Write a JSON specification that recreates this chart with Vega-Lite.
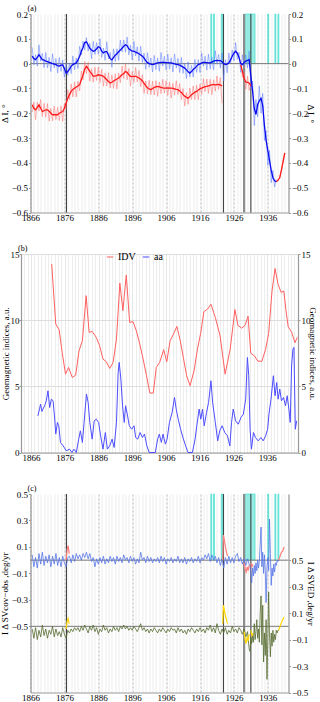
{
"$schema": "https://vega.github.io/schema/vega-lite/v6.json",
"padding": {"left": 0, "top": 5, "right": 0, "bottom": 0},
"config": {
  "font": "Liberation Serif",
  "view": {"stroke": null},
  "axis": {"labelFont": "Liberation Serif", "titleFont": "Liberation Serif", "labelFontSize": 9, "titleFontSize": 9, "titleFontWeight": "normal", "labelColor": "#000", "titleColor": "#000", "domain": true, "domainColor": "#999", "domainWidth": 1.2, "tickColor": "#999", "tickSize": 2, "labelPadding": 1, "labelFlush": false, "labelOverlap": false},
  "title": {"font": "Liberation Serif", "fontSize": 8, "fontWeight": "normal", "anchor": "start", "frame": "group", "offset": -3, "dx": -3, "color": "#000"}
},
"datasets": {
  "a": [
{"t":1866.5,"s":0.030,"r":0.065},{"t":1867,"s":0.020,"r":-0.005},{"t":1867.5,"s":0.016,"r":0.036},{"t":1868,"s":0.025,"r":-0.010},{"t":1868.5,"s":0.036,"r":0.076},{"t":1869,"s":0.025,"r":0.010},{"t":1869.5,"s":0.016,"r":0.041},{"t":1870,"s":0.014,"r":-0.016},{"t":1870.5,"s":0.010,"r":0.045},{"t":1871,"s":0.008,"r":-0.017},{"t":1871.5,"s":0.005,"r":0.025},{"t":1872,"s":0.003,"r":-0.032},{"t":1872.5,"s":0,"r":0.040},{"t":1873,"s":-0.002,"r":-0.017},{"t":1873.5,"s":-0.004,"r":0.021},{"t":1874,"s":-0.008,"r":-0.038},{"t":1874.5,"s":-0.010,"r":0.025},{"t":1875,"s":-0.006,"r":-0.031},{"t":1875.5,"s":-0.005,"r":0.015},{"t":1876,"s":-0.020,"r":-0.055},{"t":1876.5,"s":-0.038,"r":0.002},{"t":1877,"s":-0.032,"r":-0.047},{"t":1877.5,"s":-0.022,"r":0.003},{"t":1878,"s":-0.010,"r":-0.040},{"t":1878.5,"s":-0.004,"r":0.031},{"t":1879,"s":0,"r":-0.025},{"t":1879.5,"s":0.003,"r":0.023},{"t":1880,"s":0.015,"r":-0.020},{"t":1880.5,"s":0.030,"r":0.070},{"t":1881,"s":0.050,"r":0.035},{"t":1881.5,"s":0.065,"r":0.090},{"t":1882,"s":0.085,"r":0.055},{"t":1882.5,"s":0.088,"r":0.105},{"t":1883,"s":0.075,"r":0.050},{"t":1883.5,"s":0.062,"r":0.082},{"t":1884,"s":0.055,"r":0.020},{"t":1884.5,"s":0.050,"r":0.090},{"t":1885,"s":0.052,"r":0.037},{"t":1885.5,"s":0.060,"r":0.085},{"t":1886,"s":0.068,"r":0.038},{"t":1886.5,"s":0.065,"r":0.100},{"t":1887,"s":0.050,"r":0.025},{"t":1887.5,"s":0.043,"r":0.063},{"t":1888,"s":0.048,"r":0.013},{"t":1888.5,"s":0.048,"r":0.088},{"t":1889,"s":0.035,"r":0.020},{"t":1889.5,"s":0.020,"r":0.045},{"t":1890,"s":0.015,"r":-0.015},{"t":1890.5,"s":0.025,"r":0.060},{"t":1891,"s":0.034,"r":0.009},{"t":1891.5,"s":0.040,"r":0.060},{"t":1892,"s":0.048,"r":0.013},{"t":1892.5,"s":0.055,"r":0.095},{"t":1893,"s":0.062,"r":0.047},{"t":1893.5,"s":0.070,"r":0.095},{"t":1894,"s":0.076,"r":0.046},{"t":1894.5,"s":0.072,"r":0.107},{"t":1895,"s":0.060,"r":0.035},{"t":1895.5,"s":0.055,"r":0.075},{"t":1896,"s":0.050,"r":0.015},{"t":1896.5,"s":0.050,"r":0.090},{"t":1897,"s":0.046,"r":0.031},{"t":1897.5,"s":0.043,"r":0.068},{"t":1898,"s":0.040,"r":0.010},{"t":1898.5,"s":0.035,"r":0.070},{"t":1899,"s":0.030,"r":0.005},{"t":1899.5,"s":0.022,"r":0.042},{"t":1900,"s":0.012,"r":-0.023},{"t":1900.5,"s":0.004,"r":0.044},{"t":1901,"s":0,"r":-0.015},{"t":1901.5,"s":-0.002,"r":0.023},{"t":1902,"s":-0.004,"r":-0.034},{"t":1902.5,"s":-0.002,"r":0.033},{"t":1903,"s":0.001,"r":-0.024},{"t":1903.5,"s":0.003,"r":0.023},{"t":1904,"s":0.004,"r":-0.031},{"t":1904.5,"s":0.005,"r":0.045},{"t":1905,"s":0.005,"r":-0.010},{"t":1905.5,"s":0.005,"r":0.030},{"t":1906,"s":0.004,"r":-0.026},{"t":1906.5,"s":0.004,"r":0.039},{"t":1907,"s":0.003,"r":-0.022},{"t":1907.5,"s":0.003,"r":0.023},{"t":1908,"s":0.001,"r":-0.034},{"t":1908.5,"s":-0.001,"r":0.039},{"t":1909,"s":-0.003,"r":-0.018},{"t":1909.5,"s":-0.004,"r":0.021},{"t":1910,"s":-0.006,"r":-0.036},{"t":1910.5,"s":-0.010,"r":0.025},{"t":1911,"s":-0.014,"r":-0.039},{"t":1911.5,"s":-0.018,"r":0.002},{"t":1912,"s":-0.025,"r":-0.060},{"t":1912.5,"s":-0.033,"r":0.007},{"t":1913,"s":-0.038,"r":-0.053},{"t":1913.5,"s":-0.032,"r":-0.007},{"t":1914,"s":-0.024,"r":-0.054},{"t":1914.5,"s":-0.018,"r":0.017},{"t":1915,"s":-0.010,"r":-0.035},{"t":1915.5,"s":-0.004,"r":0.016},{"t":1916,"s":-0.001,"r":-0.036},{"t":1916.5,"s":0.003,"r":0.043},{"t":1917,"s":0.005,"r":-0.010},{"t":1917.5,"s":0.005,"r":0.030},{"t":1918,"s":0.004,"r":-0.026},{"t":1918.5,"s":0.003,"r":0.038},{"t":1919,"s":0.003,"r":-0.022},{"t":1919.5,"s":0.006,"r":0.026},{"t":1920,"s":0.010,"r":-0.025},{"t":1920.5,"s":0.012,"r":0.052},{"t":1921,"s":0.013,"r":-0.002},{"t":1921.5,"s":0.012,"r":0.037},{"t":1922,"s":0.012,"r":-0.018},{"t":1922.5,"s":0.008,"r":0.043},{"t":1923,"s":0,"r":-0.070},{"t":1923.5,"s":-0.004,"r":0.016},{"t":1924,"s":-0.002,"r":-0.037},{"t":1924.5,"s":0.003,"r":0.043},{"t":1925,"s":0.015,"r":0},{"t":1925.5,"s":0.030,"r":0.055},{"t":1926,"s":0.042,"r":0.012},{"t":1926.5,"s":0.050,"r":0.085},{"t":1927,"s":0.042,"r":0.017},{"t":1927.5,"s":0.025,"r":0.045},{"t":1928,"s":0,"r":-0.035},{"t":1928.5,"s":-0.004,"r":0.036},{"t":1929,"s":0.005,"r":-0.010},{"t":1929.5,"s":0.010,"r":0.035},{"t":1930,"s":0.013,"r":-0.017},{"t":1930.5,"s":0.016,"r":0.051},{"t":1931,"s":-0.050,"r":-0.100},{"t":1931.5,"s":-0.110,"r":-0.070},{"t":1932,"s":-0.180,"r":-0.250},{"t":1932.5,"s":-0.205,"r":-0.145},{"t":1933,"s":-0.165,"r":-0.215},{"t":1933.5,"s":-0.150,"r":-0.090},{"t":1934,"s":-0.140,"r":-0.200},{"t":1934.5,"s":-0.170,"r":-0.120},{"t":1935,"s":-0.250,"r":-0.310},{"t":1935.5,"s":-0.310,"r":-0.270},{"t":1936,"s":-0.350,"r":-0.410},{"t":1936.5,"s":-0.390,"r":-0.350},{"t":1937,"s":-0.430,"r":-0.480},{"t":1937.5,"s":-0.460,"r":-0.430},{"t":1938,"s":-0.472,"r":-0.497},{"t":1938.5,"s":-0.476,"r":-0.466}
  ],
  "ar": [
{"g":1,"t":1866.5,"s":-0.166,"r":-0.196},{"g":1,"t":1867,"s":-0.180,"r":-0.155},{"g":1,"t":1867.5,"s":-0.186,"r":-0.226},{"g":1,"t":1868,"s":-0.176,"r":-0.156},{"g":1,"t":1868.5,"s":-0.166,"r":-0.191},{"g":1,"t":1869,"s":-0.180,"r":-0.145},{"g":1,"t":1869.5,"s":-0.193,"r":-0.213},{"g":1,"t":1870,"s":-0.190,"r":-0.160},{"g":1,"t":1870.5,"s":-0.186,"r":-0.216},{"g":1,"t":1871,"s":-0.186,"r":-0.161},{"g":1,"t":1871.5,"s":-0.192,"r":-0.232},{"g":1,"t":1872,"s":-0.200,"r":-0.180},{"g":1,"t":1872.5,"s":-0.206,"r":-0.231},{"g":1,"t":1873,"s":-0.206,"r":-0.171},{"g":1,"t":1873.5,"s":-0.206,"r":-0.226},{"g":1,"t":1874,"s":-0.206,"r":-0.176},{"g":1,"t":1874.5,"s":-0.200,"r":-0.230},{"g":1,"t":1875,"s":-0.196,"r":-0.171},{"g":1,"t":1875.5,"s":-0.193,"r":-0.233},{"g":1,"t":1876,"s":-0.180,"r":-0.160},{"g":1,"t":1876.5,"s":-0.160,"r":-0.185},{"g":1,"t":1877,"s":-0.140,"r":-0.105},{"g":1,"t":1877.5,"s":-0.125,"r":-0.145},{"g":1,"t":1878,"s":-0.112,"r":-0.082},{"g":1,"t":1878.5,"s":-0.104,"r":-0.134},{"g":1,"t":1879,"s":-0.099,"r":-0.074},{"g":1,"t":1879.5,"s":-0.094,"r":-0.134},{"g":1,"t":1880,"s":-0.090,"r":-0.070},{"g":1,"t":1880.5,"s":-0.085,"r":-0.110},{"g":1,"t":1881,"s":-0.065,"r":-0.030},{"g":1,"t":1881.5,"s":-0.045,"r":-0.065},{"g":1,"t":1882,"s":-0.022,"r":0.008},{"g":1,"t":1882.5,"s":-0.011,"r":-0.041},{"g":1,"t":1883,"s":-0.020,"r":0.005},{"g":1,"t":1883.5,"s":-0.031,"r":-0.071},{"g":1,"t":1884,"s":-0.040,"r":-0.020},{"g":1,"t":1884.5,"s":-0.050,"r":-0.075},{"g":1,"t":1885,"s":-0.050,"r":-0.015},{"g":1,"t":1885.5,"s":-0.048,"r":-0.068},{"g":1,"t":1886,"s":-0.045,"r":-0.015},{"g":1,"t":1886.5,"s":-0.046,"r":-0.076},{"g":1,"t":1887,"s":-0.048,"r":-0.023},{"g":1,"t":1887.5,"s":-0.051,"r":-0.091},{"g":1,"t":1888,"s":-0.058,"r":-0.038},{"g":1,"t":1888.5,"s":-0.065,"r":-0.090},{"g":1,"t":1889,"s":-0.072,"r":-0.037},{"g":1,"t":1889.5,"s":-0.078,"r":-0.098},{"g":1,"t":1890,"s":-0.075,"r":-0.045},{"g":1,"t":1890.5,"s":-0.070,"r":-0.100},{"g":1,"t":1891,"s":-0.066,"r":-0.041},{"g":1,"t":1891.5,"s":-0.062,"r":-0.102},{"g":1,"t":1892,"s":-0.058,"r":-0.038},{"g":1,"t":1892.5,"s":-0.052,"r":-0.077},{"g":1,"t":1893,"s":-0.045,"r":-0.010},{"g":1,"t":1893.5,"s":-0.040,"r":-0.060},{"g":1,"t":1894,"s":-0.032,"r":-0.002},{"g":1,"t":1894.5,"s":-0.035,"r":-0.065},{"g":1,"t":1895,"s":-0.045,"r":-0.020},{"g":1,"t":1895.5,"s":-0.051,"r":-0.091},{"g":1,"t":1896,"s":-0.052,"r":-0.032},{"g":1,"t":1896.5,"s":-0.051,"r":-0.076},{"g":1,"t":1897,"s":-0.051,"r":-0.016},{"g":1,"t":1897.5,"s":-0.054,"r":-0.074},{"g":1,"t":1898,"s":-0.058,"r":-0.028},{"g":1,"t":1898.5,"s":-0.063,"r":-0.093},{"g":1,"t":1899,"s":-0.070,"r":-0.045},{"g":1,"t":1899.5,"s":-0.080,"r":-0.120},{"g":1,"t":1900,"s":-0.090,"r":-0.070},{"g":1,"t":1900.5,"s":-0.097,"r":-0.122},{"g":1,"t":1901,"s":-0.102,"r":-0.067},{"g":1,"t":1901.5,"s":-0.105,"r":-0.125},{"g":1,"t":1902,"s":-0.100,"r":-0.070},{"g":1,"t":1902.5,"s":-0.096,"r":-0.126},{"g":1,"t":1903,"s":-0.094,"r":-0.069},{"g":1,"t":1903.5,"s":-0.092,"r":-0.132},{"g":1,"t":1904,"s":-0.094,"r":-0.074},{"g":1,"t":1904.5,"s":-0.096,"r":-0.121},{"g":1,"t":1905,"s":-0.098,"r":-0.063},{"g":1,"t":1905.5,"s":-0.099,"r":-0.119},{"g":1,"t":1906,"s":-0.099,"r":-0.069},{"g":1,"t":1906.5,"s":-0.098,"r":-0.128},{"g":1,"t":1907,"s":-0.099,"r":-0.074},{"g":1,"t":1907.5,"s":-0.099,"r":-0.139},{"g":1,"t":1908,"s":-0.100,"r":-0.080},{"g":1,"t":1908.5,"s":-0.102,"r":-0.127},{"g":1,"t":1909,"s":-0.104,"r":-0.069},{"g":1,"t":1909.5,"s":-0.105,"r":-0.125},{"g":1,"t":1910,"s":-0.110,"r":-0.080},{"g":1,"t":1910.5,"s":-0.116,"r":-0.146},{"g":1,"t":1911,"s":-0.125,"r":-0.100},{"g":1,"t":1911.5,"s":-0.131,"r":-0.171},{"g":1,"t":1912,"s":-0.136,"r":-0.116},{"g":1,"t":1912.5,"s":-0.139,"r":-0.164},{"g":1,"t":1913,"s":-0.133,"r":-0.098},{"g":1,"t":1913.5,"s":-0.125,"r":-0.145},{"g":1,"t":1914,"s":-0.120,"r":-0.090},{"g":1,"t":1914.5,"s":-0.115,"r":-0.145},{"g":1,"t":1915,"s":-0.112,"r":-0.087},{"g":1,"t":1915.5,"s":-0.106,"r":-0.146},{"g":1,"t":1916,"s":-0.102,"r":-0.082},{"g":1,"t":1916.5,"s":-0.099,"r":-0.124},{"g":1,"t":1917,"s":-0.096,"r":-0.061},{"g":1,"t":1917.5,"s":-0.093,"r":-0.113},{"g":1,"t":1918,"s":-0.092,"r":-0.062},{"g":1,"t":1918.5,"s":-0.090,"r":-0.120},{"g":1,"t":1919,"s":-0.088,"r":-0.063},{"g":1,"t":1919.5,"s":-0.085,"r":-0.125},{"g":1,"t":1920,"s":-0.085,"r":-0.065},{"g":1,"t":1920.5,"s":-0.086,"r":-0.111},{"g":1,"t":1921,"s":-0.085,"r":-0.050},{"g":1,"t":1921.5,"s":-0.084,"r":-0.104},{"g":1,"t":1922,"s":-0.086,"r":-0.056},{"g":1,"t":1922.5,"s":-0.090,"r":-0.160},
{"g":2,"t":1928,"s":-0.005,"r":0.015},{"g":2,"t":1928.5,"s":-0.030,"r":-0.055},{"g":2,"t":1929,"s":-0.060,"r":-0.035},{"g":2,"t":1929.5,"s":-0.074,"r":-0.104},{"g":2,"t":1930,"s":-0.076,"r":-0.051},{"g":2,"t":1930.5,"s":-0.078,"r":-0.108},{"g":2,"t":1931,"s":-0.090,"r":-0.080},
{"g":3,"t":1938.5,"s":-0.476,"r":-0.476},{"g":3,"t":1939,"s":-0.470,"r":-0.468},{"g":3,"t":1939.5,"s":-0.460,"r":-0.462},{"g":3,"t":1940,"s":-0.430,"r":-0.428},{"g":3,"t":1940.5,"s":-0.395,"r":-0.396},{"g":3,"t":1941,"s":-0.360,"r":-0.360}
  ],
  "idv": [
{"t":1872.1,"v":14.24},{"t":1873.3,"v":9.7},{"t":1874.3,"v":9.28},{"t":1875.2,"v":7.56},{"t":1876.2,"v":5.92},{"t":1877.1,"v":6.43},{"t":1878.2,"v":5.67},{"t":1879.2,"v":5.85},{"t":1880.2,"v":7.69},{"t":1881.2,"v":8.45},{"t":1882.3,"v":11.85},{"t":1883.2,"v":9.08},{"t":1884.1,"v":9.15},{"t":1885.3,"v":8.7},{"t":1886.3,"v":8.07},{"t":1887.3,"v":7.06},{"t":1888.3,"v":6.86},{"t":1889.3,"v":6.35},{"t":1890.3,"v":6.81},{"t":1891.3,"v":8.57},{"t":1892.3,"v":12.8},{"t":1893.2,"v":10.72},{"t":1894.2,"v":13.41},{"t":1895.2,"v":9.83},{"t":1896.2,"v":9.89},{"t":1897.2,"v":9.2},{"t":1898.2,"v":8.19},{"t":1899.2,"v":7.06},{"t":1900.2,"v":5.8},{"t":1901.2,"v":4.49},{"t":1902.2,"v":4.49},{"t":1903.1,"v":6.43},{"t":1904.1,"v":6.81},{"t":1905.3,"v":7.77},{"t":1906.2,"v":6.86},{"t":1907.2,"v":8.45},{"t":1908.2,"v":8.95},{"t":1909.2,"v":9.53},{"t":1910.2,"v":8.45},{"t":1911.1,"v":7.19},{"t":1912.1,"v":5.8},{"t":1913.1,"v":5.05},{"t":1914.3,"v":6.18},{"t":1915.3,"v":7.81},{"t":1916.3,"v":9.08},{"t":1917.2,"v":10.64},{"t":1918.3,"v":10.84},{"t":1919.3,"v":11.2},{"t":1920.6,"v":10.21},{"t":1922.0,"v":8.82},{"t":1923.5,"v":5.92},{"t":1925.0,"v":7.81},{"t":1926.4,"v":10.8},{"t":1927.3,"v":9.6},{"t":1928.4,"v":9.4},{"t":1929.4,"v":9.6},{"t":1930.3,"v":10.3},{"t":1931.1,"v":7.5},{"t":1932.2,"v":7.3},{"t":1933.2,"v":6.9},{"t":1934.4,"v":6.9},{"t":1935.5,"v":7.8},{"t":1936.4,"v":9.0},{"t":1937.4,"v":12.2},{"t":1938.3,"v":13.9},{"t":1939.2,"v":12.7},{"t":1940.1,"v":12.1},{"t":1940.9,"v":12.2},{"t":1941.5,"v":10.8},{"t":1942.2,"v":9.5},{"t":1943.2,"v":9.1},{"t":1944.2,"v":8.3},{"t":1944.9,"v":8.7}
  ],
  "aa": [
{"t":1868.0,"v":2.77},{"t":1868.5,"v":3.3},{"t":1868.8,"v":3.66},{"t":1869.2,"v":3.1},{"t":1869.5,"v":3.28},{"t":1870.0,"v":3.53},{"t":1870.5,"v":3.91},{"t":1871.0,"v":4.66},{"t":1871.5,"v":3.40},{"t":1872.0,"v":4.03},{"t":1872.5,"v":3.91},{"t":1873.0,"v":2.52},{"t":1873.3,"v":1.39},{"t":1873.8,"v":2.27},{"t":1874.2,"v":2.02},{"t":1874.7,"v":0.76},{"t":1875.5,"v":0.5},{"t":1876.4,"v":0.13},{"t":1877.4,"v":0.25},{"t":1878.1,"v":0},{"t":1878.7,"v":0.25},{"t":1879.4,"v":0},{"t":1880.1,"v":1.01},{"t":1880.6,"v":1.64},{"t":1881.2,"v":0.76},{"t":1881.7,"v":2.27},{"t":1882.4,"v":4.41},{"t":1882.9,"v":3.78},{"t":1883.4,"v":2.27},{"t":1884.1,"v":1.01},{"t":1884.7,"v":2.39},{"t":1885.3,"v":2.52},{"t":1886.0,"v":2.27},{"t":1886.6,"v":1.26},{"t":1887.3,"v":0.25},{"t":1888.0,"v":1.51},{"t":1888.6,"v":0.25},{"t":1889.3,"v":0.5},{"t":1890.0,"v":1.01},{"t":1890.6,"v":0.38},{"t":1891.3,"v":2.27},{"t":1891.8,"v":6.05},{"t":1892.1,"v":6.81},{"t":1892.6,"v":5.55},{"t":1893.1,"v":3.53},{"t":1893.6,"v":2.27},{"t":1894.0,"v":3.53},{"t":1894.5,"v":2.9},{"t":1895.1,"v":2.02},{"t":1895.8,"v":1.76},{"t":1896.5,"v":2.02},{"t":1897.0,"v":1.13},{"t":1897.6,"v":1.01},{"t":1898.3,"v":1.51},{"t":1899.0,"v":1.13},{"t":1899.6,"v":1.39},{"t":1900.3,"v":0.5},{"t":1901.0,"v":0},{"t":1901.8,"v":0},{"t":1902.8,"v":0},{"t":1903.5,"v":1.01},{"t":1904.0,"v":1.39},{"t":1904.6,"v":0.76},{"t":1905.1,"v":1.39},{"t":1905.8,"v":0.63},{"t":1906.3,"v":1.01},{"t":1907.0,"v":2.27},{"t":1907.8,"v":3.03},{"t":1908.5,"v":4.16},{"t":1909.0,"v":3.28},{"t":1909.6,"v":2.52},{"t":1910.3,"v":1.76},{"t":1911.0,"v":1.13},{"t":1911.8,"v":0.5},{"t":1912.5,"v":0},{"t":1913.8,"v":0},{"t":1914.6,"v":1.01},{"t":1915.1,"v":2.02},{"t":1915.8,"v":3.28},{"t":1916.3,"v":2.52},{"t":1916.8,"v":3.28},{"t":1917.3,"v":2.02},{"t":1918.0,"v":3.03},{"t":1918.6,"v":3.78},{"t":1919.3,"v":5.42},{"t":1919.8,"v":3.78},{"t":1920.6,"v":2.27},{"t":1921.3,"v":0.88},{"t":1921.9,"v":1.64},{"t":1922.6,"v":2.02},{"t":1923.4,"v":1.51},{"t":1924.2,"v":1.26},{"t":1924.9,"v":0.5},{"t":1925.4,"v":2.27},{"t":1925.9,"v":3.28},{"t":1926.6,"v":2.39},{"t":1927.4,"v":2.14},{"t":1928.2,"v":2.65},{"t":1928.9,"v":2.9},{"t":1929.6,"v":4.03},{"t":1930.1,"v":7.18},{"t":1930.5,"v":5.8},{"t":1930.9,"v":1.76},{"t":1931.3,"v":0.25},{"t":1931.9,"v":1.51},{"t":1932.5,"v":1.13},{"t":1933.3,"v":0.88},{"t":1934.1,"v":1.13},{"t":1934.8,"v":0.88},{"t":1935.5,"v":1.26},{"t":1936.1,"v":1.76},{"t":1936.5,"v":2.9},{"t":1937.1,"v":4.03},{"t":1937.8,"v":5.8},{"t":1938.3,"v":4.29},{"t":1938.8,"v":5.29},{"t":1939.2,"v":4.03},{"t":1939.7,"v":4.79},{"t":1940.2,"v":3.91},{"t":1940.8,"v":4.16},{"t":1941.4,"v":3.53},{"t":1941.9,"v":4.29},{"t":1942.4,"v":3.28},{"t":1942.8,"v":2.27},{"t":1943.2,"v":6.55},{"t":1943.6,"v":7.81},{"t":1943.9,"v":7.94},{"t":1944.3,"v":1.76},{"t":1944.7,"v":2.39}
  ],
  "c": [
{"t":1866.5,"u":0.04,"w":-0.02},{"t":1867,"u":-0.05,"w":-0.09},{"t":1867.5,"u":0.02,"w":-0.01},{"t":1868,"u":-0.06,"w":-0.10},{"t":1868.5,"u":0.05,"w":-0.03},{"t":1869,"u":-0.03,"w":-0.08},{"t":1869.5,"u":0.06,"w":0.01},{"t":1870,"u":-0.04,"w":-0.07},{"t":1870.5,"u":0.03,"w":-0.02},{"t":1871,"u":-0.02,"w":-0.09},{"t":1871.5,"u":0.04,"w":-0.03},{"t":1872,"u":-0.05,"w":-0.06},{"t":1872.5,"u":0.03,"w":0.00},{"t":1873,"u":-0.03,"w":-0.08},{"t":1873.5,"u":0.05,"w":-0.02},{"t":1874,"u":-0.04,"w":-0.07},{"t":1874.5,"u":0.02,"w":-0.04},{"t":1875,"u":-0.05,"w":-0.08},{"t":1875.5,"u":0.03,"w":-0.01},{"t":1876,"u":-0.02,"w":-0.06},{"t":1876.5,"u":-0.05,"w":-0.09},{"t":1877,"u":0.02,"w":-0.03},{"t":1877.5,"u":0.03,"w":-0.05},{"t":1878,"u":-0.02,"w":-0.02},{"t":1878.5,"u":0.04,"w":-0.04},{"t":1879,"u":-0.01,"w":-0.01},{"t":1879.5,"u":0.05,"w":-0.03},{"t":1880,"u":0.01,"w":-0.01},{"t":1880.5,"u":0.04,"w":-0.04},{"t":1881,"u":0.00,"w":0.00},{"t":1881.5,"u":0.05,"w":-0.03},{"t":1882,"u":0.02,"w":0.01},{"t":1882.5,"u":0.06,"w":-0.02},{"t":1883,"u":0.01,"w":-0.05},{"t":1883.5,"u":0.05,"w":0.00},{"t":1884,"u":-0.01,"w":-0.03},{"t":1884.5,"u":0.02,"w":0.01},{"t":1885,"u":-0.05,"w":-0.04},{"t":1885.5,"u":0.01,"w":-0.01},{"t":1886,"u":-0.03,"w":-0.06},{"t":1886.5,"u":0.02,"w":-0.02},{"t":1887,"u":-0.02,"w":-0.04},{"t":1887.5,"u":0.03,"w":0.01},{"t":1888,"u":-0.03,"w":-0.03},{"t":1888.5,"u":0.01,"w":-0.01},{"t":1889,"u":-0.02,"w":-0.05},{"t":1889.5,"u":0.03,"w":-0.02},{"t":1890,"u":-0.01,"w":-0.04},{"t":1890.5,"u":0.02,"w":0.00},{"t":1891,"u":-0.03,"w":-0.03},{"t":1891.5,"u":0.03,"w":-0.01},{"t":1892,"u":-0.01,"w":-0.04},{"t":1892.5,"u":0.02,"w":0.00},{"t":1893,"u":-0.02,"w":-0.02},{"t":1893.5,"u":0.04,"w":0.01},{"t":1894,"u":0.00,"w":-0.02},{"t":1894.5,"u":0.02,"w":0.00},{"t":1895,"u":-0.02,"w":-0.03},{"t":1895.5,"u":0.03,"w":-0.01},{"t":1896,"u":-0.01,"w":-0.03},{"t":1896.5,"u":0.02,"w":0.00},{"t":1897,"u":-0.03,"w":-0.02},{"t":1897.5,"u":0.01,"w":-0.04},{"t":1898,"u":-0.02,"w":-0.01},{"t":1898.5,"u":0.06,"w":0.02},{"t":1899,"u":0.00,"w":-0.03},{"t":1899.5,"u":0.02,"w":-0.01},{"t":1900,"u":-0.02,"w":-0.04},{"t":1900.5,"u":0.03,"w":-0.02},{"t":1901,"u":-0.01,"w":-0.05},{"t":1901.5,"u":0.02,"w":-0.02},{"t":1902,"u":-0.02,"w":-0.04},{"t":1902.5,"u":0.01,"w":-0.01},{"t":1903,"u":-0.01,"w":-0.03},{"t":1903.5,"u":0.02,"w":-0.05},{"t":1904,"u":-0.02,"w":-0.02},{"t":1904.5,"u":0.03,"w":-0.04},{"t":1905,"u":-0.01,"w":-0.01},{"t":1905.5,"u":0.02,"w":-0.03},{"t":1906,"u":-0.03,"w":-0.05},{"t":1906.5,"u":0.01,"w":-0.02},{"t":1907,"u":-0.01,"w":-0.04},{"t":1907.5,"u":0.02,"w":-0.01},{"t":1908,"u":-0.02,"w":-0.03},{"t":1908.5,"u":0.01,"w":-0.02},{"t":1909,"u":-0.01,"w":-0.05},{"t":1909.5,"u":0.03,"w":-0.01},{"t":1910,"u":-0.02,"w":-0.04},{"t":1910.5,"u":0.01,"w":-0.02},{"t":1911,"u":-0.02,"w":-0.05},{"t":1911.5,"u":0.02,"w":-0.03},{"t":1912,"u":-0.03,"w":-0.06},{"t":1912.5,"u":0.01,"w":-0.02},{"t":1913,"u":-0.01,"w":-0.04},{"t":1913.5,"u":0.02,"w":-0.01},{"t":1914,"u":-0.02,"w":-0.03},{"t":1914.5,"u":0.01,"w":-0.05},{"t":1915,"u":-0.01,"w":-0.02},{"t":1915.5,"u":0.03,"w":-0.04},{"t":1916,"u":-0.02,"w":-0.01},{"t":1916.5,"u":0.02,"w":-0.04},{"t":1917,"u":0.00,"w":-0.02},{"t":1917.5,"u":0.04,"w":-0.05},{"t":1918,"u":0.01,"w":-0.01},{"t":1918.5,"u":0.05,"w":-0.03},{"t":1919,"u":-0.01,"w":0.01},{"t":1919.5,"u":0.04,"w":-0.04},{"t":1920,"u":0.00,"w":-0.01},{"t":1920.5,"u":0.03,"w":-0.05},{"t":1921,"u":-0.02,"w":0.02},{"t":1921.5,"u":0.02,"w":-0.03},{"t":1922,"u":-0.04,"w":-0.06},{"t":1922.5,"u":0.01,"w":-0.02},{"t":1923,"u":-0.06,"w":-0.05},{"t":1923.5,"u":0.02,"w":-0.01},{"t":1924,"u":-0.03,"w":-0.06},{"t":1924.5,"u":0.03,"w":-0.03},{"t":1925,"u":-0.02,"w":-0.05},{"t":1925.5,"u":0.02,"w":0.00},{"t":1926,"u":-0.02,"w":-0.04},{"t":1926.5,"u":0.03,"w":-0.02},{"t":1927,"u":0.05,"w":-0.05},{"t":1927.5,"u":-0.01,"w":-0.01},{"t":1928,"u":0.02,"w":-0.03},{"t":1928.5,"u":-0.03,"w":-0.06},{"t":1929,"u":0.01,"w":-0.02},{"t":1929.5,"u":-0.04,"w":-0.08},{"t":1930,"u":0.01,"w":-0.04},{"t":1930.5,"u":-0.03,"w":-0.17},{"t":1930.75,"u":-0.05,"w":-0.19},{"t":1931,"u":-0.10,"w":-0.08},{"t":1931.25,"u":-0.17,"w":-0.13},{"t":1931.5,"u":-0.06,"w":-0.07},{"t":1931.75,"u":-0.12,"w":-0.12},{"t":1932,"u":-0.04,"w":0.02},{"t":1932.25,"u":-0.10,"w":-0.10},{"t":1932.5,"u":-0.02,"w":-0.04},{"t":1932.75,"u":-0.08,"w":0.05},{"t":1933,"u":0.00,"w":-0.09},{"t":1933.25,"u":-0.06,"w":-0.02},{"t":1933.5,"u":-0.01,"w":-0.12},{"t":1933.75,"u":0.12,"w":0.10},{"t":1934,"u":0.25,"w":0.23},{"t":1934.25,"u":-0.05,"w":-0.14},{"t":1934.5,"u":0.06,"w":0.16},{"t":1934.75,"u":-0.10,"w":-0.27},{"t":1935,"u":0.04,"w":-0.05},{"t":1935.25,"u":-0.08,"w":-0.22},{"t":1935.5,"u":-0.32,"w":0.05},{"t":1935.75,"u":-0.05,"w":-0.40},{"t":1936,"u":0.02,"w":-0.10},{"t":1936.25,"u":-0.08,"w":0.26},{"t":1936.5,"u":0.31,"w":-0.06},{"t":1936.75,"u":0.05,"w":-0.23},{"t":1937,"u":-0.19,"w":-0.05},{"t":1937.25,"u":-0.06,"w":-0.15},{"t":1937.5,"u":-0.12,"w":-0.03},{"t":1937.75,"u":-0.03,"w":-0.12},{"t":1938,"u":-0.09,"w":-0.06},{"t":1938.25,"u":-0.02,"w":-0.10},{"t":1938.5,"u":-0.04,"w":-0.03},{"t":1938.75,"u":0.00,"w":-0.05},{"t":1939,"u":-0.01,"w":-0.03},{"t":1939.25,"u":0.00,"w":-0.03}
  ],
  "ch": [
{"g":1,"t":1876.5,"u":0.00,"w":-0.02},{"g":1,"t":1876.8,"u":0.08,"w":0.04},{"g":1,"t":1877.1,"u":0.11,"w":0.06},{"g":1,"t":1877.4,"u":0.05,"w":0.02},
{"g":2,"t":1922.7,"u":0.00,"w":0.02},{"g":2,"t":1922.9,"u":0.19,"w":0.16},{"g":2,"t":1923.2,"u":0.15,"w":0.12},{"g":2,"t":1923.5,"u":0.10,"w":0.08},{"g":2,"t":1923.8,"u":0.06,"w":0.05},{"g":2,"t":1924.1,"u":0.03,"w":0.02},
{"g":3,"t":1929.0,"u":-0.02,"w":-0.04},{"g":3,"t":1929.3,"u":-0.07,"w":-0.10},{"g":3,"t":1929.6,"u":-0.09,"w":-0.13},{"g":3,"t":1929.9,"u":-0.05,"w":-0.08},{"g":3,"t":1930.2,"u":-0.08,"w":-0.11},{"g":3,"t":1930.5,"u":-0.04,"w":-0.06},
{"g":4,"t":1931.0,"u":-0.02,"w":-0.03},{"g":4,"t":1931.3,"u":-0.05,"w":-0.07},{"g":4,"t":1931.6,"u":-0.03,"w":-0.05},
{"g":5,"t":1939.2,"u":0.00,"w":-0.03},{"g":5,"t":1939.6,"u":0.03,"w":0.00},{"g":5,"t":1940.0,"u":0.06,"w":0.03},{"g":5,"t":1940.4,"u":0.07,"w":0.05},{"g":5,"t":1940.8,"u":0.10,"w":0.07}
  ],
  "cy": [
{"t":1919.2,"t2":1919.45},{"t":1920.0,"t2":1920.25},{"t":1922.3,"t2":1922.8},{"t":1929.2,"t2":1932.2},{"t":1936.0,"t2":1936.25},{"t":1938.1,"t2":1938.35},{"t":1939.0,"t2":1939.25}
  ],
  "bl": [{"t":1876.6},{"t":1922.9},{"t":1931.0}],
  "gr": [{"t":1929.0}]
},
"vconcat": [
{
  "width": 258, "height": 198.5,
  "title": {"text": "(a)"},
  "layer": [
    {"data": {"name": "cy"}, "mark": {"type": "rect", "fill": "#40e0d0", "fillOpacity": 0.55, "stroke": "#40e0d0", "strokeWidth": 0.7},
     "encoding": {"x": {"field": "t", "type": "quantitative", "scale": {"domain": [1866, 1942.1], "nice": false, "zero": false},
       "axis": {"orient": "bottom", "values": [1866,1867,1868,1869,1870,1871,1872,1873,1874,1875,1876,1877,1878,1879,1880,1881,1882,1883,1884,1885,1886,1887,1888,1889,1890,1891,1892,1893,1894,1895,1896,1897,1898,1899,1900,1901,1902,1903,1904,1905,1906,1907,1908,1909,1910,1911,1912,1913,1914,1915,1916,1917,1918,1919,1920,1921,1922,1923,1924,1925,1926,1927,1928,1929,1930,1931,1932,1933,1934,1935,1936,1937,1938,1939,1940,1941,1942],
         "grid": true, "gridColor": "#e8e8e8", "gridWidth": 0.8, "labels": false, "ticks": false, "domain": false, "title": null}},
       "x2": {"field": "t2"},
       "y": {"datum": 0.2, "type": "quantitative", "scale": {"domain": [-0.6, 0.2], "nice": false}, "axis": null}, "y2": {"datum": 0}}},
    {"data": {"name": "gr"}, "mark": {"type": "rule", "color": "#8c8c8c", "strokeWidth": 2.2},
     "encoding": {"x": {"field": "t", "type": "quantitative", "scale": {"domain": [1866, 1942.1], "nice": false, "zero": false}, "axis": null}}},
    {"data": {"name": "bl"}, "mark": {"type": "rule", "color": "#333", "strokeWidth": 1},
     "encoding": {"x": {"field": "t", "type": "quantitative", "scale": {"domain": [1866, 1942.1], "nice": false, "zero": false}, "axis": null}}},
    {"data": {"values": [{}]}, "mark": {"type": "rule", "color": "#777", "strokeWidth": 1},
     "encoding": {"y": {"datum": 0, "type": "quantitative", "scale": {"domain": [-0.6, 0.2], "nice": false},
       "axis": {"orient": "right", "values": [0.2, 0.1, 0, -0.1, -0.2, -0.3, -0.4, -0.5, -0.6], "format": ".1~f", "title": "Δ I, °", "titlePadding": -2}}}},
    {"data": {"name": "ar"}, "mark": {"type": "line", "color": "#ff7070", "strokeWidth": 0.7, "opacity": 0.75},
     "encoding": {"x": {"field": "t", "type": "quantitative", "scale": {"domain": [1866, 1942.1], "nice": false, "zero": false}, "axis": null},
       "y": {"field": "r", "type": "quantitative", "scale": {"domain": [-0.6, 0.2], "nice": false}, "axis": null}, "detail": {"field": "g"}}},
    {"data": {"name": "a"}, "mark": {"type": "line", "color": "#5b7bff", "strokeWidth": 0.7, "opacity": 0.75},
     "encoding": {"x": {"field": "t", "type": "quantitative", "scale": {"domain": [1866, 1942.1], "nice": false, "zero": false}, "axis": null},
       "y": {"field": "r", "type": "quantitative", "scale": {"domain": [-0.6, 0.2], "nice": false}, "axis": null}}},
    {"data": {"name": "ar"}, "mark": {"type": "line", "color": "#ff1a1a", "strokeWidth": 1.3},
     "encoding": {"x": {"field": "t", "type": "quantitative", "scale": {"domain": [1866, 1942.1], "nice": false, "zero": false}, "axis": null},
       "y": {"field": "s", "type": "quantitative", "scale": {"domain": [-0.6, 0.2], "nice": false}, "axis": null}, "detail": {"field": "g"}}},
    {"data": {"name": "a"}, "mark": {"type": "line", "color": "#0a0aee", "strokeWidth": 1.3},
     "encoding": {"x": {"field": "t", "type": "quantitative", "scale": {"domain": [1866, 1942.1], "nice": false, "zero": false},
       "axis": {"orient": "bottom", "values": [1866, 1876, 1886, 1896, 1906, 1916, 1926, 1936], "format": "d", "grid": true, "gridColor": "#b5b5b5", "gridDash": [2, 2], "gridWidth": 0.8, "ticks": false, "labelPadding": 1, "title": null}},
       "y": {"field": "s", "type": "quantitative", "scale": {"domain": [-0.6, 0.2], "nice": false},
         "axis": {"orient": "left", "values": [0.2, 0.1, 0, -0.1, -0.2, -0.3, -0.4, -0.5, -0.6], "format": ".1~f", "title": "Δ I, °", "titlePadding": 2}}}}
  ],
  "resolve": {"scale": {"y": "independent"}, "axis": {"x": "independent", "y": "independent"}}
},
{
  "width": 277, "height": 198.5,
  "title": {"text": "(b)"},
  "layer": [
    {"data": {"name": "idv"}, "mark": {"type": "line", "strokeWidth": 1},
     "encoding": {"x": {"field": "t", "type": "quantitative", "scale": {"domain": [1863, 1945.1], "nice": false, "zero": false},
       "axis": {"orient": "bottom", "values": [1866, 1876, 1886, 1896, 1906, 1916, 1926, 1936], "format": "d", "grid": true, "gridColor": "#b5b5b5", "gridDash": [2, 2], "gridWidth": 0.8, "ticks": false, "labelPadding": 1, "title": null}},
       "y": {"field": "v", "type": "quantitative", "scale": {"domain": [0, 15], "nice": false},
         "axis": {"orient": "left", "values": [0, 5, 10, 15], "title": "Geomagnetic indices, a.u.", "titlePadding": 0, "labelPadding": 0}},
       "color": {"datum": "IDV", "type": "nominal", "scale": {"domain": ["IDV", "aa"], "range": ["#ff5f5f", "#4d4dff"]},
         "legend": {"orient": "none", "legendX": 84, "legendY": -2, "direction": "horizontal", "title": null, "symbolType": "stroke", "symbolSize": 40, "symbolStrokeWidth": 1, "labelFont": "Liberation Serif", "labelFontSize": 10, "columnPadding": 4, "labelOffset": 3, "padding": 0}}}},
    {"data": {"name": "aa"}, "mark": {"type": "line", "strokeWidth": 1},
     "encoding": {"x": {"field": "t", "type": "quantitative", "scale": {"domain": [1863, 1945.1], "nice": false, "zero": false},
       "axis": {"orient": "bottom", "values": [1863,1864,1865,1866,1867,1868,1869,1870,1871,1872,1873,1874,1875,1876,1877,1878,1879,1880,1881,1882,1883,1884,1885,1886,1887,1888,1889,1890,1891,1892,1893,1894,1895,1896,1897,1898,1899,1900,1901,1902,1903,1904,1905,1906,1907,1908,1909,1910,1911,1912,1913,1914,1915,1916,1917,1918,1919,1920,1921,1922,1923,1924,1925,1926,1927,1928,1929,1930,1931,1932,1933,1934,1935,1936,1937,1938,1939,1940,1941,1942,1943,1944,1945],
         "grid": true, "gridColor": "#e8e8e8", "gridWidth": 0.8, "labels": false, "ticks": false, "domain": false, "title": null}},
       "y": {"field": "v", "type": "quantitative", "scale": {"domain": [0, 15], "nice": false},
         "axis": {"orient": "right", "values": [0, 5, 10, 15], "title": "Geomagnetic indices, a.u.", "titlePadding": -3}},
       "color": {"datum": "aa", "type": "nominal"}}}
  ],
  "resolve": {"scale": {"y": "independent"}, "axis": {"x": "independent", "y": "independent"}}
},
{
  "width": 258, "height": 198.5,
  "title": {"text": "(c)"},
  "layer": [
    {"data": {"name": "cy"}, "mark": {"type": "rect", "fill": "#40e0d0", "fillOpacity": 0.55, "stroke": "#40e0d0", "strokeWidth": 0.7},
     "encoding": {"x": {"field": "t", "type": "quantitative", "scale": {"domain": [1866, 1942.1], "nice": false, "zero": false},
       "axis": {"orient": "bottom", "values": [1866,1867,1868,1869,1870,1871,1872,1873,1874,1875,1876,1877,1878,1879,1880,1881,1882,1883,1884,1885,1886,1887,1888,1889,1890,1891,1892,1893,1894,1895,1896,1897,1898,1899,1900,1901,1902,1903,1904,1905,1906,1907,1908,1909,1910,1911,1912,1913,1914,1915,1916,1917,1918,1919,1920,1921,1922,1923,1924,1925,1926,1927,1928,1929,1930,1931,1932,1933,1934,1935,1936,1937,1938,1939,1940,1941,1942],
         "grid": true, "gridColor": "#e8e8e8", "gridWidth": 0.8, "labels": false, "ticks": false, "domain": false, "title": null}},
       "x2": {"field": "t2"},
       "y": {"datum": 0.5, "type": "quantitative", "scale": {"domain": [-1, 0.5], "nice": false}, "axis": null}, "y2": {"datum": 0}}},
    {"data": {"name": "gr"}, "mark": {"type": "rule", "color": "#8c8c8c", "strokeWidth": 2.2},
     "encoding": {"x": {"field": "t", "type": "quantitative", "scale": {"domain": [1866, 1942.1], "nice": false, "zero": false}, "axis": null}}},
    {"data": {"name": "bl"}, "mark": {"type": "rule", "color": "#333", "strokeWidth": 1},
     "encoding": {"x": {"field": "t", "type": "quantitative", "scale": {"domain": [1866, 1942.1], "nice": false, "zero": false}, "axis": null}}},
    {"data": {"values": [{}]}, "mark": {"type": "rule", "color": "#777", "strokeWidth": 1},
     "encoding": {"y": {"datum": 0, "type": "quantitative", "scale": {"domain": [-1, 0.5], "nice": false}, "axis": null}}},
    {"data": {"values": [{}]}, "mark": {"type": "rule", "color": "#777", "strokeWidth": 1},
     "encoding": {"y": {"datum": -0.5, "type": "quantitative", "scale": {"domain": [-1, 0.5], "nice": false}, "axis": null}}},
    {"data": {"name": "c"}, "mark": {"type": "line", "color": "#5573e6", "strokeWidth": 0.8},
     "encoding": {"x": {"field": "t", "type": "quantitative", "scale": {"domain": [1866, 1942.1], "nice": false, "zero": false},
       "axis": {"orient": "bottom", "values": [1866, 1876, 1886, 1896, 1906, 1916, 1926, 1936], "format": "d", "grid": true, "gridColor": "#b5b5b5", "gridDash": [2, 2], "gridWidth": 0.8, "ticks": false, "labelPadding": 1, "title": null}},
       "y": {"field": "u", "type": "quantitative", "scale": {"domain": [-1, 0.5], "nice": false},
         "axis": {"orient": "left", "values": [0.5, 0.3, 0.1, -0.1, -0.3, -0.5], "format": ".1f", "title": "I Δ SVcov−obs ,deg/yr", "titlePadding": 2}}}},
    {"data": {"name": "c"}, "mark": {"type": "line", "color": "#556b2f", "strokeWidth": 0.8},
     "encoding": {"x": {"field": "t", "type": "quantitative", "scale": {"domain": [1866, 1942.1], "nice": false, "zero": false}, "axis": null},
       "y": {"field": "w", "type": "quantitative", "scale": {"domain": [-0.5, 1], "nice": false},
         "axis": {"orient": "right", "values": [0.5, 0.3, 0.1, -0.1, -0.3, -0.5], "format": ".1f", "title": "I Δ SVED ,deg/yr", "titlePadding": -2}}}},
    {"data": {"name": "ch"}, "mark": {"type": "line", "color": "#ff7f7f", "strokeWidth": 1.2},
     "encoding": {"x": {"field": "t", "type": "quantitative", "scale": {"domain": [1866, 1942.1], "nice": false, "zero": false}, "axis": null},
       "y": {"field": "u", "type": "quantitative", "scale": {"domain": [-1, 0.5], "nice": false}, "axis": null}, "detail": {"field": "g"}}},
    {"data": {"name": "ch"}, "mark": {"type": "line", "color": "#ffd700", "strokeWidth": 1.2},
     "encoding": {"x": {"field": "t", "type": "quantitative", "scale": {"domain": [1866, 1942.1], "nice": false, "zero": false}, "axis": null},
       "y": {"field": "w", "type": "quantitative", "scale": {"domain": [-0.5, 1], "nice": false}, "axis": null}, "detail": {"field": "g"}}}
  ],
  "resolve": {"scale": {"y": "independent"}, "axis": {"x": "independent", "y": "independent"}}
}
],
"resolve": {"scale": {"color": "independent"}},
"spacing": 41,
"center": true,
"bounds": "flush"
}
